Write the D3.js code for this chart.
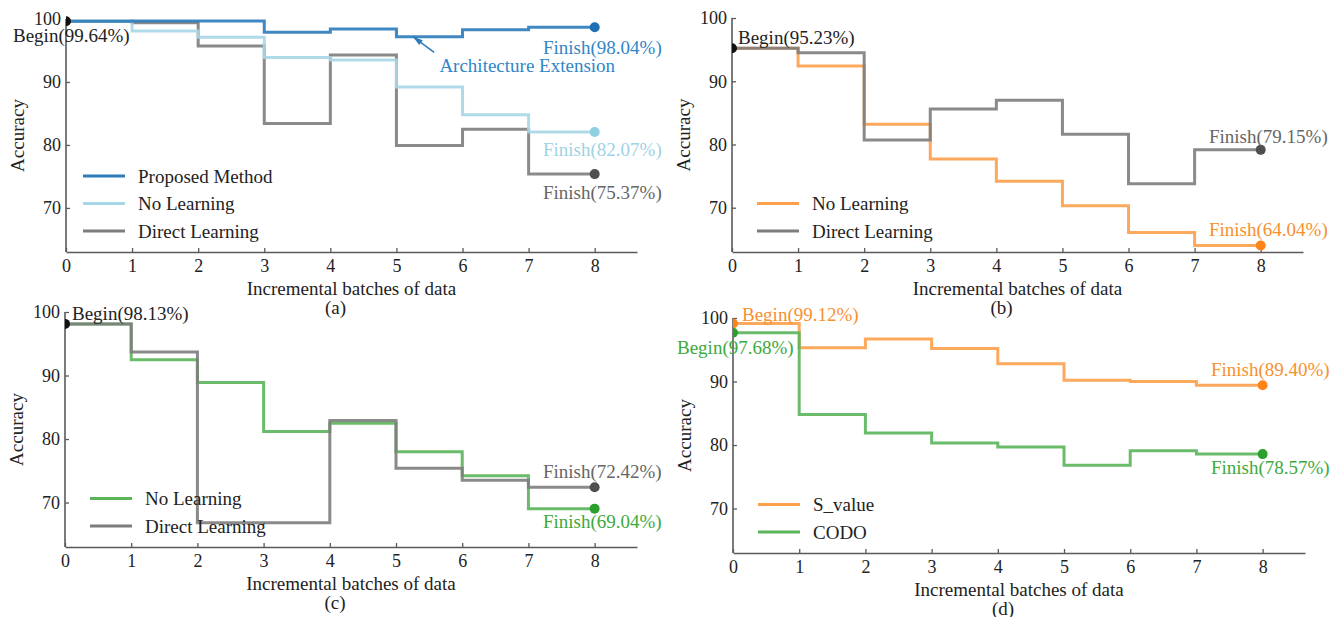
<!DOCTYPE html>
<html>
<head>
<meta charset="utf-8">
<script src="https://cdn.jsdelivr.net/npm/d3@7"></script>
<style>
  body { margin: 0; background: #fff; }
  svg text { font-family: "Liberation Serif", "Times New Roman", serif; }
</style>
</head>
<body>
<svg width="1344" height="617"></svg>
<script>
// batches of incremental data (x) and y ticks
var batches = [0, 1, 2, 3, 4, 5, 6, 7, 8];
var yTicks = [70, 80, 90, 100];

// accuracy after each batch
var aProposed   = [99.64, 99.7, 99.7, 97.9, 98.4, 97.2, 98.3, 98.7, 98.7];
var aNoLearning = [99.64, 98.1, 97.1, 93.9, 93.5, 89.2, 84.8, 82.07, 82.07];
var aDirect     = [99.64, 99.4, 95.7, 83.4, 94.3, 79.9, 82.5, 75.37, 75.37];

var bNoLearning = [95.23, 92.4, 83.2, 77.7, 74.2, 70.3, 66.1, 64.04, 64.04];
var bDirect     = [95.23, 94.5, 80.7, 85.6, 87.0, 81.6, 73.8, 79.15, 79.15];

var cNoLearning = [98.13, 92.5, 88.9, 81.2, 82.5, 78.0, 74.2, 69.04, 69.04];
var cDirect     = [98.13, 93.7, 66.8, 66.8, 82.9, 75.4, 73.5, 72.42, 72.42];

var dSValue = [99.12, 95.3, 96.7, 95.2, 92.8, 90.2, 90.0, 89.40, 89.40];
var dCODO   = [97.68, 84.8, 81.9, 80.3, 79.7, 76.8, 79.1, 78.57, 78.57];

var svg = d3.select("svg");

var BLUE = "#2b7bba", LBLUE = "#a7d6e6", GRAY = "#7d7d7d",
    ORANGE = "#fca04c", GREEN = "#5ab55a";

var panels = [
  { id: "a", left: 66, right: 637, top: 19, bottom: 252, legendX: 17,
    series: [
      { name: "Direct Learning", values: aDirect, color: GRAY, dot: "#4f4f4f", text: "#666",
        finish: "Finish(75.37%)", fdy: 18 },
      { name: "No Learning", values: aNoLearning, color: LBLUE, dot: "#8ecfe1", text: "#9dd3e4",
        finish: "Finish(82.07%)", fdy: 18 },
      { name: "Proposed Method", values: aProposed, color: BLUE, dot: "#1f6fb5", text: "#2f86c8",
        finish: "Finish(98.04%)", fdy: 20 }
    ],
    legend: [2, 1, 0],
    begin: [{ s: 2, label: "Begin(99.64%)", dx: -53, dy: 14, color: "#222", dot: "#111" }] },
  { id: "b", left: 732, right: 1303, top: 18, bottom: 252, legendX: 25,
    series: [
      { name: "No Learning", values: bNoLearning, color: ORANGE, dot: "#ff8418", text: "#f7902f",
        finish: "Finish(64.04%)", fdy: -16 },
      { name: "Direct Learning", values: bDirect, color: GRAY, dot: "#4f4f4f", text: "#666",
        finish: "Finish(79.15%)", fdy: -13 }
    ],
    legend: [0, 1],
    begin: [{ s: 1, label: "Begin(95.23%)", dx: 6, dy: -11, color: "#222", dot: "#111" }] },
  { id: "c", left: 65, right: 637, top: 312, bottom: 547, legendX: 25,
    series: [
      { name: "No Learning", values: cNoLearning, color: GREEN, dot: "#2ca02c", text: "#3caa3c",
        finish: "Finish(69.04%)", fdy: 13 },
      { name: "Direct Learning", values: cDirect, color: GRAY, dot: "#4f4f4f", text: "#666",
        finish: "Finish(72.42%)", fdy: -16 }
    ],
    legend: [0, 1],
    begin: [{ s: 1, label: "Begin(98.13%)", dx: 7, dy: -10, color: "#222", dot: "#111" }] },
  { id: "d", left: 733, right: 1305, top: 318, bottom: 553, legendX: 25,
    series: [
      { name: "S_value", values: dSValue, color: ORANGE, dot: "#ff8418", text: "#f7902f",
        finish: "Finish(89.40%)", fdy: -16 },
      { name: "CODO", values: dCODO, color: GREEN, dot: "#2ca02c", text: "#3caa3c",
        finish: "Finish(78.57%)", fdy: 13 }
    ],
    legend: [0, 1],
    begin: [
      { s: 0, label: "Begin(99.12%)", dx: 9, dy: -9, color: "#f7902f", dot: "#ff8418" },
      { s: 1, label: "Begin(97.68%)", dx: -56, dy: 15, color: "#3caa3c", dot: "#2ca02c" }
    ] }
];

panels.forEach(function(p) {
  var x = d3.scaleLinear().domain([0, 8.64]).range([p.left, p.right]);
  var y = d3.scaleLinear().domain([63, 100]).range([p.bottom, p.top]);
  var g = svg.append("g").attr("class", "panel-" + p.id);

  g.append("clipPath").attr("id", "clip-" + p.id)
    .append("rect")
    .attr("x", p.left).attr("y", p.top - 10)
    .attr("width", p.right - p.left).attr("height", p.bottom - p.top + 10);

  // axes: only left and bottom spines, ticks pointing inward
  var xAxis = g.append("g")
    .attr("transform", "translate(0," + p.bottom + ")")
    .call(d3.axisBottom(x).tickValues(batches).tickFormat(d3.format("d"))
      .tickSizeInner(-4).tickSizeOuter(0).tickPadding(7));
  var yAxis = g.append("g")
    .attr("transform", "translate(" + p.left + ",0)")
    .call(d3.axisLeft(y).tickValues(yTicks).tickSizeInner(-4).tickSizeOuter(0).tickPadding(5));
  [xAxis, yAxis].forEach(function(a) {
    a.select(".domain").attr("stroke", "#5a5a5a").attr("stroke-width", 1.6);
    a.selectAll(".tick line").attr("stroke", "#5a5a5a").attr("stroke-width", 1.3);
    a.selectAll(".tick text").attr("fill", "#222").style("font-size", "18px")
      .style("font-family", "Liberation Serif, serif");
  });
  yAxis.select(".domain").attr("d", "M0," + y(100) + "V" + p.bottom);

  g.append("text")
    .attr("x", (p.left + p.right) / 2).attr("y", p.bottom + 36)
    .attr("text-anchor", "middle").attr("dominant-baseline", "central")
    .attr("fill", "#222").style("font-size", "19px")
    .text("Incremental batches of data");
  g.append("text")
    .attr("x", (p.left + p.right) / 2 - 16).attr("y", p.bottom + 55)
    .attr("text-anchor", "middle").attr("dominant-baseline", "central")
    .attr("fill", "#222").style("font-size", "19px")
    .text("(" + p.id + ")");
  g.append("text")
    .attr("transform", "translate(" + (p.left - 49) + "," + ((p.top + p.bottom) / 2) + ") rotate(-90)")
    .attr("text-anchor", "middle").attr("dominant-baseline", "central")
    .attr("fill", "#222").style("font-size", "19px")
    .text("Accuracy");

  var line = d3.line()
    .x(function(d, i) { return x(batches[i]); })
    .y(function(d) { return y(d); })
    .curve(d3.curveStepAfter);

  p.series.forEach(function(s) {
    g.append("path")
      .datum(s.values)
      .attr("fill", "none")
      .attr("stroke", s.color)
      .attr("stroke-opacity", 0.9)
      .attr("stroke-width", 3)
      .attr("d", line);
  });

  // finish points and labels
  p.series.forEach(function(s) {
    var v = s.values[s.values.length - 1];
    var cx = x(8), cy = y(v);
    g.append("circle").attr("cx", cx).attr("cy", cy).attr("r", 5).attr("fill", s.dot);
    g.append("text")
      .attr("x", cx + 67).attr("y", cy + s.fdy)
      .attr("text-anchor", "end").attr("dominant-baseline", "central")
      .attr("fill", s.text).style("font-size", "19px")
      .text(s.finish);
  });

  // begin points (half hidden by the axis) and labels
  p.begin.forEach(function(b) {
    var v = p.series[b.s].values[0];
    g.append("circle").attr("clip-path", "url(#clip-" + p.id + ")")
      .attr("cx", x(0)).attr("cy", y(v)).attr("r", 5).attr("fill", b.dot);
    g.append("text")
      .attr("x", x(0) + b.dx).attr("y", y(v) + b.dy)
      .attr("dominant-baseline", "central")
      .attr("fill", b.color).style("font-size", "19px")
      .text(b.label);
  });

  // legend
  var n = p.legend.length;
  p.legend.forEach(function(si, k) {
    var s = p.series[si];
    var ly = p.bottom - 21 - (n - 1 - k) * 27.5;
    g.append("line")
      .attr("x1", p.left + p.legendX).attr("x2", p.left + p.legendX + 42)
      .attr("y1", ly).attr("y2", ly)
      .attr("stroke", s.color).attr("stroke-width", 3);
    g.append("text")
      .attr("x", p.left + p.legendX + 55).attr("y", ly)
      .attr("dominant-baseline", "central")
      .attr("fill", "#222").style("font-size", "19px")
      .text(s.name);
  });

  // annotation for the proposed method
  if (p.id === "a") {
    var tip = [x(5.25), y(97.2)], tail = [x(5.57), y(94.7)];
    var ang = Math.atan2(tip[1] - tail[1], tip[0] - tail[0]);
    g.append("line")
      .attr("x1", tail[0]).attr("y1", tail[1]).attr("x2", tip[0]).attr("y2", tip[1])
      .attr("stroke", BLUE).attr("stroke-width", 1.5);
    var hl = 10, hw = 3;
    var bx = tip[0] - hl * Math.cos(ang), by = tip[1] - hl * Math.sin(ang);
    g.append("path")
      .attr("d", "M" + tip[0] + "," + tip[1] +
        "L" + (bx + hw * Math.sin(ang)) + "," + (by - hw * Math.cos(ang)) +
        "L" + (bx - hw * Math.sin(ang)) + "," + (by + hw * Math.cos(ang)) + "Z")
      .attr("fill", BLUE);
    g.append("text")
      .attr("x", x(5.65)).attr("y", y(92.6))
      .attr("dominant-baseline", "central")
      .attr("fill", "#2f86c8").style("font-size", "19px")
      .text("Architecture Extension");
  }
});
</script>
</body>
</html>
